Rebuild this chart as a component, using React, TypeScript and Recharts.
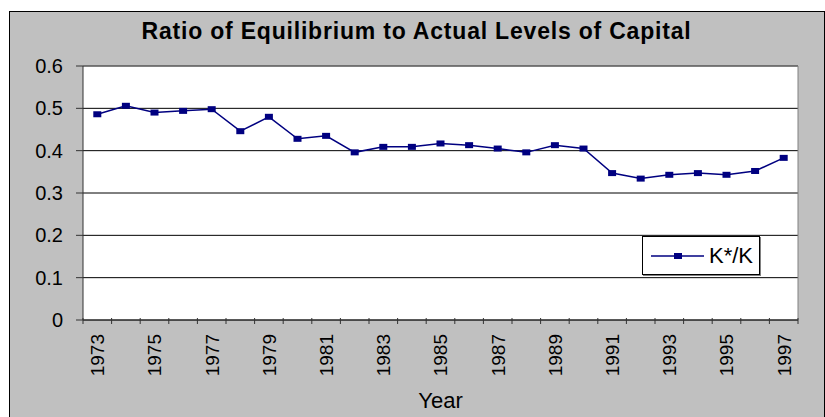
import React from 'react';
import { LineChart, Line, XAxis, YAxis, CartesianGrid, Legend } from 'recharts';

const years = [
  1973, 1974, 1975, 1976, 1977, 1978, 1979, 1980, 1981, 1982, 1983, 1984, 1985,
  1986, 1987, 1988, 1989, 1990, 1991, 1992, 1993, 1994, 1995, 1996, 1997,
];
const ratio = [
  0.486, 0.506, 0.49, 0.494, 0.498, 0.446, 0.48, 0.428, 0.435, 0.396, 0.409, 0.409, 0.417,
  0.413, 0.405, 0.396, 0.413, 0.405, 0.347, 0.334, 0.343, 0.347, 0.343, 0.352, 0.383,
];
const yearLabels = [1973, 1975, 1977, 1979, 1981, 1983, 1985, 1987, 1989, 1991, 1993, 1995, 1997];
const yTicks = [0, 0.1, 0.2, 0.3, 0.4, 0.5, 0.6];

const data = years.map((year, i) => ({ year, ratio: ratio[i] }));
// Excel puts category tick marks between the years, labels on every other year
const boundaries = [...years.map((y) => y - 0.5), years[years.length - 1] + 0.5];
const xTicks = [...boundaries, ...yearLabels].sort((a, b) => a - b);

const FONT = '"Liberation Sans", Arial, sans-serif';
const NAVY = '#000080';

const SquareDot = (props: any) => {
  const { cx, cy } = props;
  if (cx == null || cy == null) return null;
  return <rect x={cx - 4} y={cy - 3} width={8} height={6} fill={NAVY} />;
};

const YearTick = (props: any) => {
  const { x, y, payload } = props;
  const v = payload.value;
  if (!Number.isInteger(v)) {
    // tick mark between categories
    return <line x1={x} y1={y - 2} x2={x} y2={y + 4} stroke="#333" />;
  }
  return (
    <g transform={`translate(${x},${y + 14})`}>
      <text transform="rotate(-90)" textAnchor="end" dy="0.36em" fontSize={19} fontFamily={FONT} fill="#000">
        {v}
      </text>
    </g>
  );
};

const LegendBox = (props: any) => {
  const item = props.payload?.[0];
  return (
    <div style={{ display: 'flex', alignItems: 'center', height: '100%', paddingLeft: 8, fontFamily: FONT, fontSize: 22 }}>
      <svg width={54} height={10}>
        <line x1={0} y1={5} x2={53} y2={5} stroke={NAVY} strokeWidth={1.5} />
        <rect x={23} y={2} width={8} height={6} fill={NAVY} />
      </svg>
      <span style={{ marginLeft: 4 }}>{item ? item.value : 'K*/K'}</span>
    </div>
  );
};

export default function App() {
  return (
    <div style={{ position: 'absolute', left: 0, top: 0, width: 825, height: 417, overflow: 'hidden', fontFamily: FONT }}>
      <div
        style={{
          position: 'absolute',
          left: 9,
          top: 11,
          width: 816,
          height: 420,
          boxSizing: 'border-box',
          background: '#C0C0C0',
          border: '1px solid #000',
        }}
      />
      <div
        style={{
          position: 'absolute',
          left: 0,
          top: 20,
          width: 825,
          paddingLeft: 8,
          boxSizing: 'border-box',
          textAlign: 'center',
          fontSize: 23,
          lineHeight: '23px',
          fontWeight: 'bold',
          letterSpacing: 0.8,
        }}
      >
        Ratio of Equilibrium to Actual Levels of Capital
      </div>
      <div style={{ position: 'absolute', left: 0, top: 0 }}>
        <LineChart width={825} height={417} data={data} margin={{ top: 66, right: 27, left: 23, bottom: 37 }}>
          <CartesianGrid vertical={false} stroke="#000" fill="#fff" fillOpacity={1} />
          <CartesianGrid
            stroke="#808080"
            horizontalCoordinatesGenerator={({ offset }: any) => [offset.top]}
            verticalCoordinatesGenerator={({ offset }: any) => [offset.left + offset.width]}
          />
          <XAxis
            dataKey="year"
            type="number"
            domain={[1972.5, 1997.5]}
            ticks={xTicks}
            interval={0}
            tick={<YearTick />}
            tickLine={false}
            axisLine={{ stroke: '#333' }}
            tickSize={0}
            tickMargin={0}
            height={60}
            label={{ value: 'Year', position: 'bottom', offset: 12, fontSize: 22, fontFamily: FONT, fill: '#000' }}
          />
          <YAxis
            domain={[0, 0.6]}
            ticks={yTicks}
            interval={0}
            width={60}
            tickSize={7}
            tickMargin={13}
            axisLine={{ stroke: '#333' }}
            tickLine={{ stroke: '#333' }}
            tick={{ fontSize: 20, fontFamily: FONT, fill: '#000' }}
          />
          <Legend
            layout="horizontal"
            verticalAlign="middle"
            align="center"
            content={<LegendBox />}
            wrapperStyle={{
              position: 'absolute',
              left: 642,
              top: 236,
              width: 118,
              height: 39,
              boxSizing: 'border-box',
              background: '#fff',
              border: '1px solid #000',
              boxShadow: '1px 1px 0 #808080',
            }}
          />
          <Line
            dataKey="ratio"
            name="K*/K"
            stroke={NAVY}
            strokeWidth={1.5}
            dot={<SquareDot />}
            activeDot={false}
            isAnimationActive={false}
          />
        </LineChart>
      </div>
    </div>
  );
}
